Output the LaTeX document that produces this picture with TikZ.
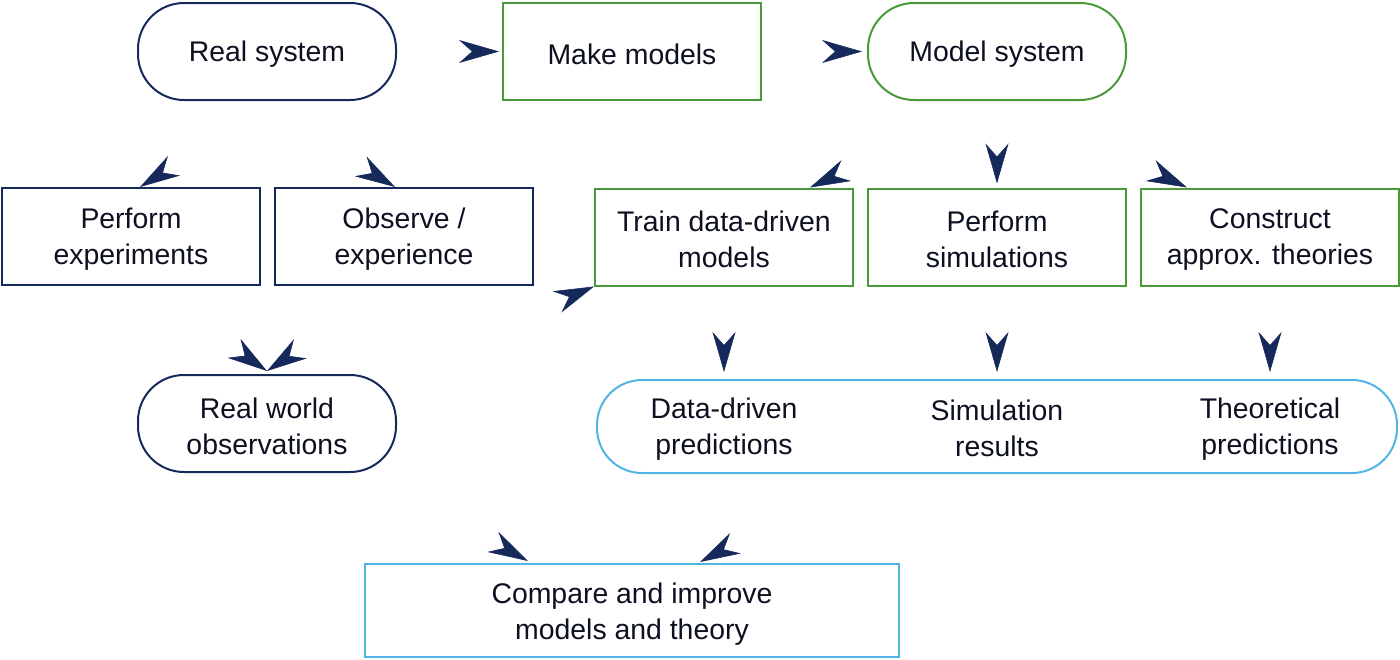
\documentclass[tikz,border=0pt]{standalone}
\usepackage{fontspec}
\setmainfont{Liberation Sans}
\usetikzlibrary{arrows.meta,decorations.markings}
\definecolor{navyc}{HTML}{15295A}
\definecolor{greenc}{HTML}{4A9A3C}
\definecolor{bluec}{HTML}{52B4E2}
\definecolor{textc}{HTML}{0D1020}
\newcommand\upstrut{\rule{0pt}{25.5pt}}
\begin{document}
\begin{tikzpicture}[x=1pt,y=1pt,
  box/.style={draw, line width=2pt, minimum width=258pt, minimum height=97pt, inner sep=0pt, align=center, text=textc, font=\fontsize{28.4}{36}\selectfont},
  stad/.style={box, rounded corners=46pt},
  lbl/.style={align=center, text=textc, inner sep=0pt, font=\fontsize{28.4}{36}\selectfont},
  tip/.style={decorate, decoration={markings, mark=at position -0.01pt with {\arrow[navyc, line width=0.6pt]{Stealth[length=40pt,width=23pt,inset=13pt]}}}}]
\useasboundingbox (0,0) rectangle (1400,-659);
% top row
\node[stad, draw=navyc] (rs) at (267,-51.5) {\upstrut Real system};
\node[box, draw=greenc] (mm) at (632,-51.5) {\upstrut Make models};
\node[stad, draw=greenc] (ms) at (997,-51.5) {\upstrut Model system};
% second row
\node[box, draw=navyc] (pe) at (131,-236.5) {\upstrut Perform\\experiments};
\node[box, draw=navyc] (oe) at (404,-236.5) {\upstrut Observe /\\experience};
\node[box, draw=greenc] (tr) at (724,-237) {\upstrut Train data-driven\\models};
\node[box, draw=greenc] (ps) at (997,-237) {\upstrut Perform\\simulations};
\node[box, draw=greenc] (ca) at (1270,-237) {\upstrut Construct\\approx. theories};
% third row
\node[stad, draw=navyc] (rw) at (267,-423.5) {\upstrut Real world\\observations};
\node[box, draw=bluec, minimum width=800pt, minimum height=93pt, rounded corners=45pt] (preds) at (997,-426.5) {};
\node[lbl] (dp) at (724,-429.5) {Data-driven\\predictions};
\node[lbl] (sr) at (997,-428) {Simulation\\results};
\node[lbl] (tp) at (1270,-429.5) {Theoretical\\predictions};
% bottom
\node[box, draw=bluec, minimum width=534pt, minimum height=93pt] (cmp) at (632,-610.5) {\rule{0pt}{27pt}Compare and improve\\models and theory};
% connectors (only arrowheads visible)
\path[tip] (rs) -- ([xshift=-3pt]mm.west);
\path[tip] (mm) -- ([xshift=-5pt]ms.west);
\path[tip] (rs) to[out=-130,in=32] ([xshift=9pt]pe.north);
\path[tip] (rs) to[out=-50,in=149] ([xshift=-9pt]oe.north);
\path[tip] (ms) to[out=-130,in=25] ([xshift=86pt]tr.north);
\path[tip] (ms) -- ([yshift=4pt]ps.north);
\path[tip] (ms) to[out=-50,in=155] ([xshift=-83pt]ca.north);
\path[tip] (pe) to[out=-50,in=145.5] ([yshift=3pt]rw.north);
\path[tip] (oe) to[out=-130,in=33.7] ([yshift=3pt]rw.north);
\path[tip] (rw) to[out=20,in=202.6] (tr.south west);
\path[tip] (tr) -- ([xshift=-273pt,yshift=7pt]preds.north);
\path[tip] (ps) -- ([yshift=7pt]preds.north);
\path[tip] (ca) -- ([xshift=273pt,yshift=7pt]preds.north);
\path[tip] (rw) to[out=-50,in=151.4] ([xshift=-104pt,yshift=2pt]cmp.north);
\path[tip] (preds.south) to[out=-150,in=27.9] ([xshift=68pt,yshift=1pt]cmp.north);
\end{tikzpicture}
\end{document}
